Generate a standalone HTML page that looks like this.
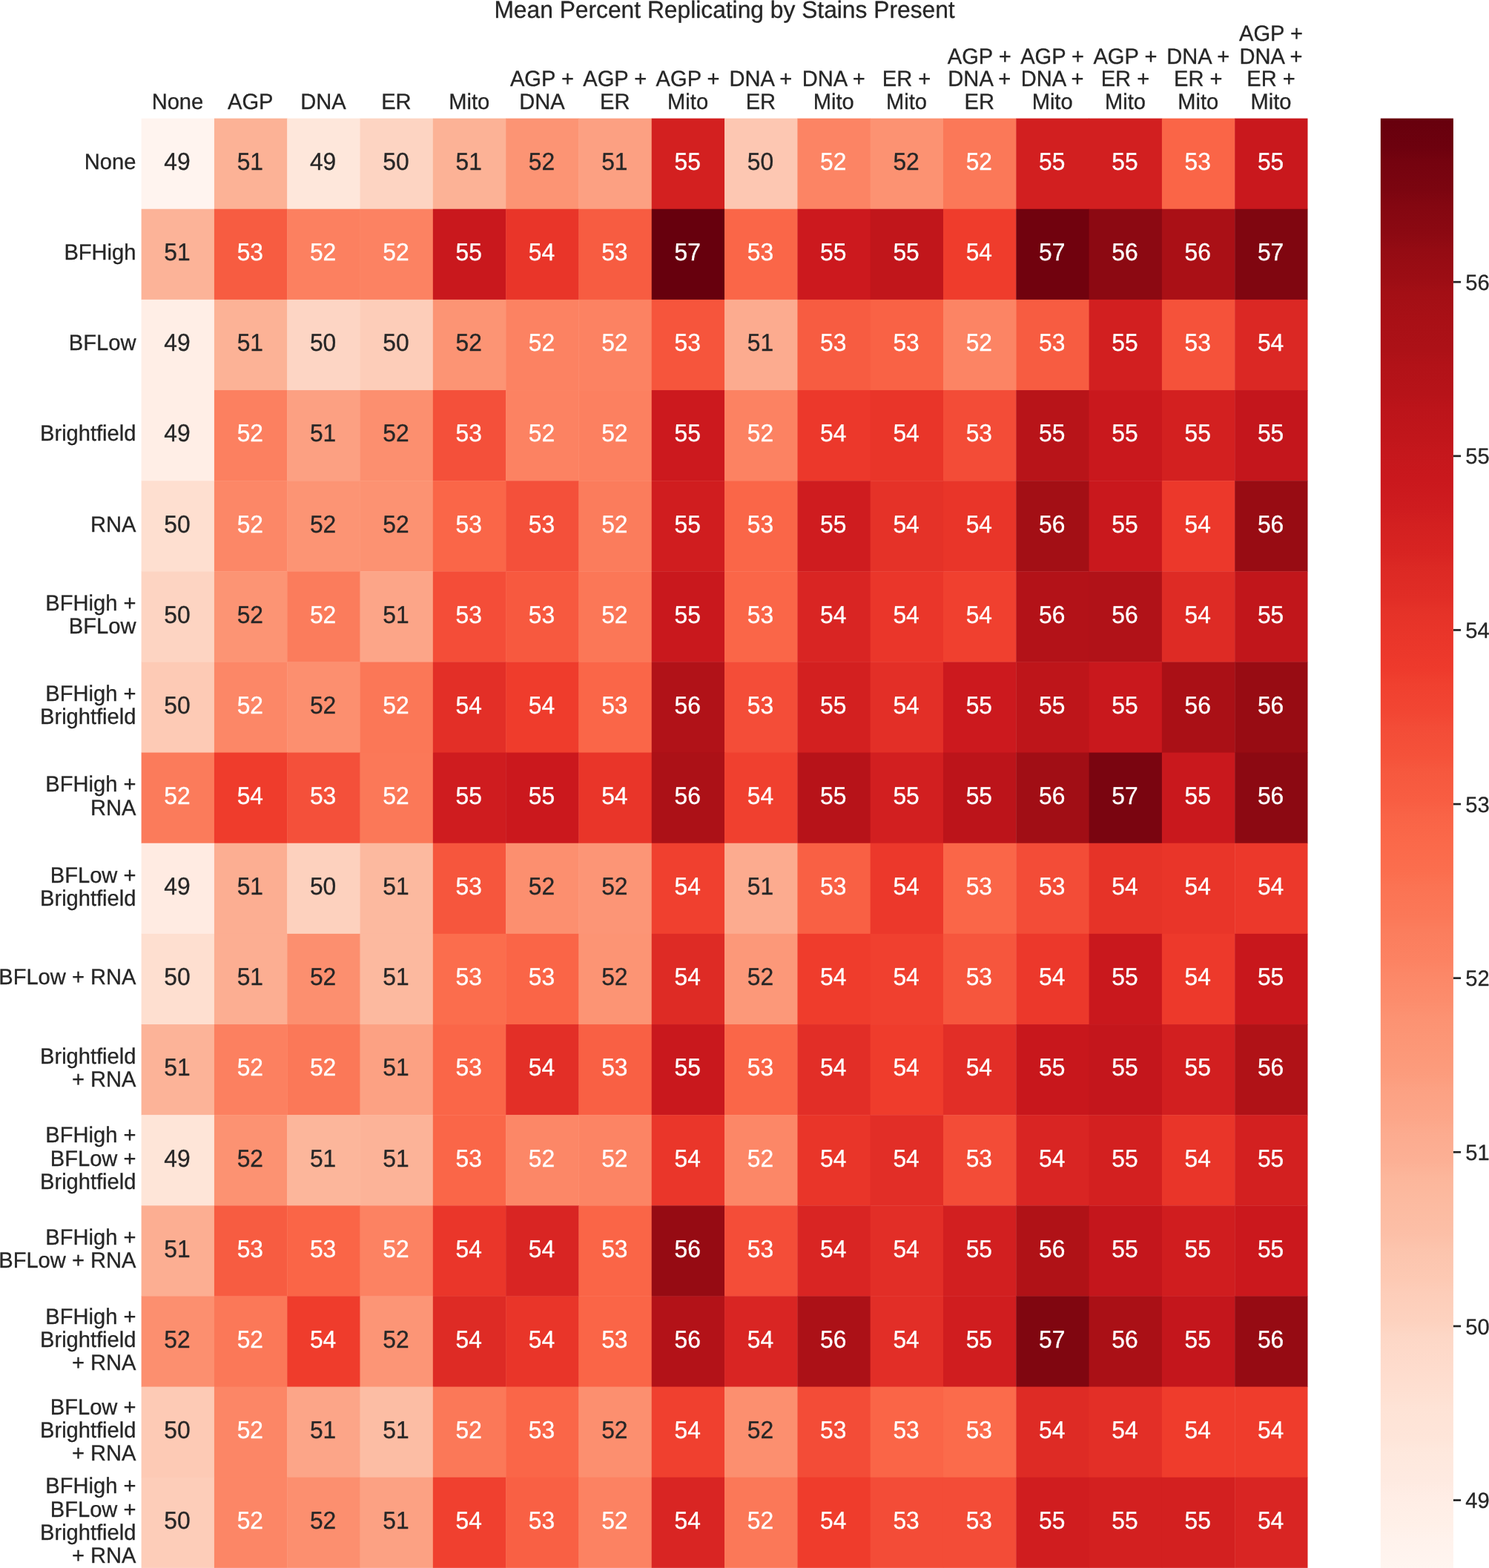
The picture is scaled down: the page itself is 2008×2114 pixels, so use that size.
<!DOCTYPE html>
<html lang="en"><head><meta charset="utf-8"><title>Mean Percent Replicating by Stains Present</title>
<style>
html,body{margin:0;padding:0;background:#fff}
body{width:2008px;height:2114px;position:relative;overflow:hidden;font-family:"Liberation Sans",sans-serif;color:#262626;-webkit-text-stroke:0.3px currentColor;text-rendering:geometricPrecision}
svg{position:absolute;left:0;top:0}
.t,.a,.xl,.yl,.cl{position:absolute;white-space:nowrap;transform-origin:0 0}
.t{font-size:31.75px;line-height:36px;text-align:center;transform:scale(1,1.02)}
.a{font-size:31.75px;line-height:40px;text-align:center;color:#fff;width:98.31px;transform:scale(1,1.04)}
.a.d{color:#262626}
.xl,.yl,.cl{font-size:29.1px;line-height:30.49px;transform:scale(1,1.02)}
.xl{text-align:center;width:200px}
.yl{text-align:right;width:300px;left:-116.6px}
.cl{left:1976.3px}
</style></head><body>
<svg width="2008" height="2114" viewBox="0 0 2008 2114"><defs><linearGradient id="g" x1="0" y1="0" x2="0" y2="1"><stop offset="0" stop-color="#67000d"/><stop offset="0.02" stop-color="#6d010e"/><stop offset="0.03" stop-color="#75030f"/><stop offset="0.05" stop-color="#7c0510"/><stop offset="0.06" stop-color="#840711"/><stop offset="0.08" stop-color="#8c0912"/><stop offset="0.09" stop-color="#940b13"/><stop offset="0.11" stop-color="#9c0d14"/><stop offset="0.12" stop-color="#a30f15"/><stop offset="0.14" stop-color="#a91016"/><stop offset="0.16" stop-color="#ad1117"/><stop offset="0.17" stop-color="#b21218"/><stop offset="0.19" stop-color="#b71319"/><stop offset="0.2" stop-color="#bc141a"/><stop offset="0.22" stop-color="#c1161b"/><stop offset="0.23" stop-color="#c5171c"/><stop offset="0.25" stop-color="#ca181d"/><stop offset="0.27" stop-color="#cf1c1f"/><stop offset="0.28" stop-color="#d32020"/><stop offset="0.3" stop-color="#d82422"/><stop offset="0.31" stop-color="#dc2924"/><stop offset="0.33" stop-color="#e12d26"/><stop offset="0.34" stop-color="#e53228"/><stop offset="0.36" stop-color="#ea362a"/><stop offset="0.38" stop-color="#ee3a2c"/><stop offset="0.39" stop-color="#f0402f"/><stop offset="0.41" stop-color="#f24633"/><stop offset="0.42" stop-color="#f34c37"/><stop offset="0.44" stop-color="#f5523a"/><stop offset="0.45" stop-color="#f6583e"/><stop offset="0.47" stop-color="#f85d42"/><stop offset="0.48" stop-color="#f96346"/><stop offset="0.5" stop-color="#fb694a"/><stop offset="0.52" stop-color="#fb6e4e"/><stop offset="0.53" stop-color="#fb7353"/><stop offset="0.55" stop-color="#fb7858"/><stop offset="0.56" stop-color="#fb7d5d"/><stop offset="0.58" stop-color="#fc8262"/><stop offset="0.59" stop-color="#fc8767"/><stop offset="0.61" stop-color="#fc8d6d"/><stop offset="0.62" stop-color="#fc9272"/><stop offset="0.64" stop-color="#fc9777"/><stop offset="0.66" stop-color="#fc9c7d"/><stop offset="0.67" stop-color="#fca183"/><stop offset="0.69" stop-color="#fca689"/><stop offset="0.7" stop-color="#fcab8f"/><stop offset="0.72" stop-color="#fcb095"/><stop offset="0.73" stop-color="#fcb69b"/><stop offset="0.75" stop-color="#fcbba1"/><stop offset="0.77" stop-color="#fcbfa7"/><stop offset="0.78" stop-color="#fcc4ad"/><stop offset="0.8" stop-color="#fdc9b3"/><stop offset="0.81" stop-color="#fdcdb9"/><stop offset="0.83" stop-color="#fdd2bf"/><stop offset="0.84" stop-color="#fdd7c6"/><stop offset="0.86" stop-color="#fedbcc"/><stop offset="0.88" stop-color="#fee0d2"/><stop offset="0.89" stop-color="#fee3d6"/><stop offset="0.91" stop-color="#fee5d9"/><stop offset="0.92" stop-color="#fee8dd"/><stop offset="0.94" stop-color="#feeae1"/><stop offset="0.95" stop-color="#ffede5"/><stop offset="0.97" stop-color="#fff0e8"/><stop offset="0.98" stop-color="#fff2ec"/><stop offset="1" stop-color="#fff5f0"/></linearGradient></defs>
<g><rect x="190.6" y="159.6" width="98.71" height="122.54" fill="#fff4ef"/><rect x="288.91" y="159.6" width="98.71" height="122.54" fill="#fcb296"/><rect x="387.21" y="159.6" width="98.71" height="122.54" fill="#fee7db"/><rect x="485.52" y="159.6" width="98.71" height="122.54" fill="#fdd4c2"/><rect x="583.83" y="159.6" width="98.71" height="122.54" fill="#fcb296"/><rect x="682.13" y="159.6" width="98.71" height="122.54" fill="#fc9474"/><rect x="780.44" y="159.6" width="98.71" height="122.54" fill="#fca082"/><rect x="878.74" y="159.6" width="98.71" height="122.54" fill="#d32020"/><rect x="977.05" y="159.6" width="98.71" height="122.54" fill="#fdc7b2"/><rect x="1075.36" y="159.6" width="98.71" height="122.54" fill="#fc8464"/><rect x="1173.66" y="159.6" width="98.71" height="122.54" fill="#fc9272"/><rect x="1271.97" y="159.6" width="98.71" height="122.54" fill="#fb7858"/><rect x="1370.28" y="159.6" width="98.71" height="122.54" fill="#d21f20"/><rect x="1468.58" y="159.6" width="98.71" height="122.54" fill="#d21f20"/><rect x="1566.89" y="159.6" width="98.71" height="122.54" fill="#fa6547"/><rect x="1665.19" y="159.6" width="98.31" height="122.54" fill="#c9181d"/></g>
<g><rect x="190.6" y="281.74" width="98.71" height="122.54" fill="#fcb398"/><rect x="288.91" y="281.74" width="98.71" height="122.54" fill="#f75c41"/><rect x="387.21" y="281.74" width="98.71" height="122.54" fill="#fc8060"/><rect x="485.52" y="281.74" width="98.71" height="122.54" fill="#fc8262"/><rect x="583.83" y="281.74" width="98.71" height="122.54" fill="#c9181d"/><rect x="682.13" y="281.74" width="98.71" height="122.54" fill="#e93529"/><rect x="780.44" y="281.74" width="98.71" height="122.54" fill="#f75c41"/><rect x="878.74" y="281.74" width="98.71" height="122.54" fill="#67000d"/><rect x="977.05" y="281.74" width="98.71" height="122.54" fill="#fa6648"/><rect x="1075.36" y="281.74" width="98.71" height="122.54" fill="#cc191e"/><rect x="1173.66" y="281.74" width="98.71" height="122.54" fill="#c1161b"/><rect x="1271.97" y="281.74" width="98.71" height="122.54" fill="#ef3c2c"/><rect x="1370.28" y="281.74" width="98.71" height="122.54" fill="#71020e"/><rect x="1468.58" y="281.74" width="98.71" height="122.54" fill="#8c0912"/><rect x="1566.89" y="281.74" width="98.71" height="122.54" fill="#aa1016"/><rect x="1665.19" y="281.74" width="98.31" height="122.54" fill="#800610"/></g>
<g><rect x="190.6" y="403.89" width="98.71" height="122.54" fill="#ffeee6"/><rect x="288.91" y="403.89" width="98.71" height="122.54" fill="#fcb296"/><rect x="387.21" y="403.89" width="98.71" height="122.54" fill="#fdd5c4"/><rect x="485.52" y="403.89" width="98.71" height="122.54" fill="#fdcdb9"/><rect x="583.83" y="403.89" width="98.71" height="122.54" fill="#fc9474"/><rect x="682.13" y="403.89" width="98.71" height="122.54" fill="#fc8262"/><rect x="780.44" y="403.89" width="98.71" height="122.54" fill="#fc8262"/><rect x="878.74" y="403.89" width="98.71" height="122.54" fill="#f6553c"/><rect x="977.05" y="403.89" width="98.71" height="122.54" fill="#fcab8f"/><rect x="1075.36" y="403.89" width="98.71" height="122.54" fill="#f75c41"/><rect x="1173.66" y="403.89" width="98.71" height="122.54" fill="#f96245"/><rect x="1271.97" y="403.89" width="98.71" height="122.54" fill="#fc8464"/><rect x="1370.28" y="403.89" width="98.71" height="122.54" fill="#f75c41"/><rect x="1468.58" y="403.89" width="98.71" height="122.54" fill="#d21f20"/><rect x="1566.89" y="403.89" width="98.71" height="122.54" fill="#f5523a"/><rect x="1665.19" y="403.89" width="98.31" height="122.54" fill="#db2824"/></g>
<g><rect x="190.6" y="526.03" width="98.71" height="122.54" fill="#ffeee6"/><rect x="288.91" y="526.03" width="98.71" height="122.54" fill="#fc8060"/><rect x="387.21" y="526.03" width="98.71" height="122.54" fill="#fca082"/><rect x="485.52" y="526.03" width="98.71" height="122.54" fill="#fc8f6f"/><rect x="583.83" y="526.03" width="98.71" height="122.54" fill="#f4503a"/><rect x="682.13" y="526.03" width="98.71" height="122.54" fill="#fc8262"/><rect x="780.44" y="526.03" width="98.71" height="122.54" fill="#fc8060"/><rect x="878.74" y="526.03" width="98.71" height="122.54" fill="#cc191e"/><rect x="977.05" y="526.03" width="98.71" height="122.54" fill="#fc8262"/><rect x="1075.36" y="526.03" width="98.71" height="122.54" fill="#ec382b"/><rect x="1173.66" y="526.03" width="98.71" height="122.54" fill="#e93529"/><rect x="1271.97" y="526.03" width="98.71" height="122.54" fill="#f34c37"/><rect x="1370.28" y="526.03" width="98.71" height="122.54" fill="#b81419"/><rect x="1468.58" y="526.03" width="98.71" height="122.54" fill="#c9181d"/><rect x="1566.89" y="526.03" width="98.71" height="122.54" fill="#d32020"/><rect x="1665.19" y="526.03" width="98.31" height="122.54" fill="#c4161c"/></g>
<g><rect x="190.6" y="648.18" width="98.71" height="122.54" fill="#fedfd0"/><rect x="288.91" y="648.18" width="98.71" height="122.54" fill="#fc8767"/><rect x="387.21" y="648.18" width="98.71" height="122.54" fill="#fc9474"/><rect x="485.52" y="648.18" width="98.71" height="122.54" fill="#fc9272"/><rect x="583.83" y="648.18" width="98.71" height="122.54" fill="#fa6648"/><rect x="682.13" y="648.18" width="98.71" height="122.54" fill="#f4503a"/><rect x="780.44" y="648.18" width="98.71" height="122.54" fill="#fb7c5c"/><rect x="878.74" y="648.18" width="98.71" height="122.54" fill="#d01d1f"/><rect x="977.05" y="648.18" width="98.71" height="122.54" fill="#fa6648"/><rect x="1075.36" y="648.18" width="98.71" height="122.54" fill="#cf1c1f"/><rect x="1173.66" y="648.18" width="98.71" height="122.54" fill="#e53228"/><rect x="1271.97" y="648.18" width="98.71" height="122.54" fill="#e93529"/><rect x="1370.28" y="648.18" width="98.71" height="122.54" fill="#a30f15"/><rect x="1468.58" y="648.18" width="98.71" height="122.54" fill="#c9181d"/><rect x="1566.89" y="648.18" width="98.71" height="122.54" fill="#ec382b"/><rect x="1665.19" y="648.18" width="98.31" height="122.54" fill="#980c13"/></g>
<g><rect x="190.6" y="770.32" width="98.71" height="122.54" fill="#fdd4c2"/><rect x="288.91" y="770.32" width="98.71" height="122.54" fill="#fc9474"/><rect x="387.21" y="770.32" width="98.71" height="122.54" fill="#fb7c5c"/><rect x="485.52" y="770.32" width="98.71" height="122.54" fill="#fca588"/><rect x="583.83" y="770.32" width="98.71" height="122.54" fill="#f44d38"/><rect x="682.13" y="770.32" width="98.71" height="122.54" fill="#f7593f"/><rect x="780.44" y="770.32" width="98.71" height="122.54" fill="#fb7757"/><rect x="878.74" y="770.32" width="98.71" height="122.54" fill="#c9181d"/><rect x="977.05" y="770.32" width="98.71" height="122.54" fill="#fa6648"/><rect x="1075.36" y="770.32" width="98.71" height="122.54" fill="#d92523"/><rect x="1173.66" y="770.32" width="98.71" height="122.54" fill="#ea362a"/><rect x="1271.97" y="770.32" width="98.71" height="122.54" fill="#f0402f"/><rect x="1370.28" y="770.32" width="98.71" height="122.54" fill="#b31218"/><rect x="1468.58" y="770.32" width="98.71" height="122.54" fill="#b11218"/><rect x="1566.89" y="770.32" width="98.71" height="122.54" fill="#de2b25"/><rect x="1665.19" y="770.32" width="98.31" height="122.54" fill="#c1161b"/></g>
<g><rect x="190.6" y="892.46" width="98.71" height="122.54" fill="#fdcab5"/><rect x="288.91" y="892.46" width="98.71" height="122.54" fill="#fc8767"/><rect x="387.21" y="892.46" width="98.71" height="122.54" fill="#fc8f6f"/><rect x="485.52" y="892.46" width="98.71" height="122.54" fill="#fb7757"/><rect x="583.83" y="892.46" width="98.71" height="122.54" fill="#e32f27"/><rect x="682.13" y="892.46" width="98.71" height="122.54" fill="#ef3c2c"/><rect x="780.44" y="892.46" width="98.71" height="122.54" fill="#fa6648"/><rect x="878.74" y="892.46" width="98.71" height="122.54" fill="#b11218"/><rect x="977.05" y="892.46" width="98.71" height="122.54" fill="#f44d38"/><rect x="1075.36" y="892.46" width="98.71" height="122.54" fill="#d32020"/><rect x="1173.66" y="892.46" width="98.71" height="122.54" fill="#e32f27"/><rect x="1271.97" y="892.46" width="98.71" height="122.54" fill="#cc191e"/><rect x="1370.28" y="892.46" width="98.71" height="122.54" fill="#be151a"/><rect x="1468.58" y="892.46" width="98.71" height="122.54" fill="#c9181d"/><rect x="1566.89" y="892.46" width="98.71" height="122.54" fill="#aa1016"/><rect x="1665.19" y="892.46" width="98.31" height="122.54" fill="#980c13"/></g>
<g><rect x="190.6" y="1014.61" width="98.71" height="122.54" fill="#fb7b5b"/><rect x="288.91" y="1014.61" width="98.71" height="122.54" fill="#ef3c2c"/><rect x="387.21" y="1014.61" width="98.71" height="122.54" fill="#f4503a"/><rect x="485.52" y="1014.61" width="98.71" height="122.54" fill="#fb7858"/><rect x="583.83" y="1014.61" width="98.71" height="122.54" fill="#cf1c1f"/><rect x="682.13" y="1014.61" width="98.71" height="122.54" fill="#cb181d"/><rect x="780.44" y="1014.61" width="98.71" height="122.54" fill="#e93529"/><rect x="878.74" y="1014.61" width="98.71" height="122.54" fill="#ac1117"/><rect x="977.05" y="1014.61" width="98.71" height="122.54" fill="#f0402f"/><rect x="1075.36" y="1014.61" width="98.71" height="122.54" fill="#b71319"/><rect x="1173.66" y="1014.61" width="98.71" height="122.54" fill="#d21f20"/><rect x="1271.97" y="1014.61" width="98.71" height="122.54" fill="#bc141a"/><rect x="1370.28" y="1014.61" width="98.71" height="122.54" fill="#a10e15"/><rect x="1468.58" y="1014.61" width="98.71" height="122.54" fill="#7a0510"/><rect x="1566.89" y="1014.61" width="98.71" height="122.54" fill="#c9181d"/><rect x="1665.19" y="1014.61" width="98.31" height="122.54" fill="#8c0912"/></g>
<g><rect x="190.6" y="1136.75" width="98.71" height="122.54" fill="#ffebe2"/><rect x="288.91" y="1136.75" width="98.71" height="122.54" fill="#fcae92"/><rect x="387.21" y="1136.75" width="98.71" height="122.54" fill="#fdd1be"/><rect x="485.52" y="1136.75" width="98.71" height="122.54" fill="#fcb99f"/><rect x="583.83" y="1136.75" width="98.71" height="122.54" fill="#f6563d"/><rect x="682.13" y="1136.75" width="98.71" height="122.54" fill="#fc8f6f"/><rect x="780.44" y="1136.75" width="98.71" height="122.54" fill="#fc9576"/><rect x="878.74" y="1136.75" width="98.71" height="122.54" fill="#f0402f"/><rect x="977.05" y="1136.75" width="98.71" height="122.54" fill="#fcab8f"/><rect x="1075.36" y="1136.75" width="98.71" height="122.54" fill="#f96044"/><rect x="1173.66" y="1136.75" width="98.71" height="122.54" fill="#ec382b"/><rect x="1271.97" y="1136.75" width="98.71" height="122.54" fill="#fa6648"/><rect x="1370.28" y="1136.75" width="98.71" height="122.54" fill="#f34c37"/><rect x="1468.58" y="1136.75" width="98.71" height="122.54" fill="#e63328"/><rect x="1566.89" y="1136.75" width="98.71" height="122.54" fill="#e93529"/><rect x="1665.19" y="1136.75" width="98.31" height="122.54" fill="#ec382b"/></g>
<g><rect x="190.6" y="1258.89" width="98.71" height="122.54" fill="#fedfd0"/><rect x="288.91" y="1258.89" width="98.71" height="122.54" fill="#fcae92"/><rect x="387.21" y="1258.89" width="98.71" height="122.54" fill="#fc8f6f"/><rect x="485.52" y="1258.89" width="98.71" height="122.54" fill="#fcb99f"/><rect x="583.83" y="1258.89" width="98.71" height="122.54" fill="#fb6d4d"/><rect x="682.13" y="1258.89" width="98.71" height="122.54" fill="#fa6547"/><rect x="780.44" y="1258.89" width="98.71" height="122.54" fill="#fc9474"/><rect x="878.74" y="1258.89" width="98.71" height="122.54" fill="#de2b25"/><rect x="977.05" y="1258.89" width="98.71" height="122.54" fill="#fc9879"/><rect x="1075.36" y="1258.89" width="98.71" height="122.54" fill="#ef3c2c"/><rect x="1173.66" y="1258.89" width="98.71" height="122.54" fill="#f0402f"/><rect x="1271.97" y="1258.89" width="98.71" height="122.54" fill="#f6563d"/><rect x="1370.28" y="1258.89" width="98.71" height="122.54" fill="#ec382b"/><rect x="1468.58" y="1258.89" width="98.71" height="122.54" fill="#c9181d"/><rect x="1566.89" y="1258.89" width="98.71" height="122.54" fill="#ed392b"/><rect x="1665.19" y="1258.89" width="98.31" height="122.54" fill="#c8171c"/></g>
<g><rect x="190.6" y="1381.04" width="98.71" height="122.54" fill="#fcb398"/><rect x="288.91" y="1381.04" width="98.71" height="122.54" fill="#fc8060"/><rect x="387.21" y="1381.04" width="98.71" height="122.54" fill="#fb7858"/><rect x="485.52" y="1381.04" width="98.71" height="122.54" fill="#fca183"/><rect x="583.83" y="1381.04" width="98.71" height="122.54" fill="#fa6648"/><rect x="682.13" y="1381.04" width="98.71" height="122.54" fill="#e32f27"/><rect x="780.44" y="1381.04" width="98.71" height="122.54" fill="#f96044"/><rect x="878.74" y="1381.04" width="98.71" height="122.54" fill="#c9181d"/><rect x="977.05" y="1381.04" width="98.71" height="122.54" fill="#fa6648"/><rect x="1075.36" y="1381.04" width="98.71" height="122.54" fill="#e22e27"/><rect x="1173.66" y="1381.04" width="98.71" height="122.54" fill="#ef3c2c"/><rect x="1271.97" y="1381.04" width="98.71" height="122.54" fill="#e22e27"/><rect x="1370.28" y="1381.04" width="98.71" height="122.54" fill="#c8171c"/><rect x="1468.58" y="1381.04" width="98.71" height="122.54" fill="#c4161c"/><rect x="1566.89" y="1381.04" width="98.71" height="122.54" fill="#d21f20"/><rect x="1665.19" y="1381.04" width="98.31" height="122.54" fill="#b01217"/></g>
<g><rect x="190.6" y="1503.18" width="98.71" height="122.54" fill="#fee5d8"/><rect x="288.91" y="1503.18" width="98.71" height="122.54" fill="#fc9272"/><rect x="387.21" y="1503.18" width="98.71" height="122.54" fill="#fcb69b"/><rect x="485.52" y="1503.18" width="98.71" height="122.54" fill="#fcb398"/><rect x="583.83" y="1503.18" width="98.71" height="122.54" fill="#fa6648"/><rect x="682.13" y="1503.18" width="98.71" height="122.54" fill="#fc8767"/><rect x="780.44" y="1503.18" width="98.71" height="122.54" fill="#fc8464"/><rect x="878.74" y="1503.18" width="98.71" height="122.54" fill="#ea362a"/><rect x="977.05" y="1503.18" width="98.71" height="122.54" fill="#fc8767"/><rect x="1075.36" y="1503.18" width="98.71" height="122.54" fill="#e93529"/><rect x="1173.66" y="1503.18" width="98.71" height="122.54" fill="#e22e27"/><rect x="1271.97" y="1503.18" width="98.71" height="122.54" fill="#f34c37"/><rect x="1370.28" y="1503.18" width="98.71" height="122.54" fill="#d92523"/><rect x="1468.58" y="1503.18" width="98.71" height="122.54" fill="#d32020"/><rect x="1566.89" y="1503.18" width="98.71" height="122.54" fill="#e93529"/><rect x="1665.19" y="1503.18" width="98.31" height="122.54" fill="#d32020"/></g>
<g><rect x="190.6" y="1625.33" width="98.71" height="122.54" fill="#fcae92"/><rect x="288.91" y="1625.33" width="98.71" height="122.54" fill="#f75c41"/><rect x="387.21" y="1625.33" width="98.71" height="122.54" fill="#fa6547"/><rect x="485.52" y="1625.33" width="98.71" height="122.54" fill="#fc8262"/><rect x="583.83" y="1625.33" width="98.71" height="122.54" fill="#ea362a"/><rect x="682.13" y="1625.33" width="98.71" height="122.54" fill="#d92523"/><rect x="780.44" y="1625.33" width="98.71" height="122.54" fill="#fa6547"/><rect x="878.74" y="1625.33" width="98.71" height="122.54" fill="#960b13"/><rect x="977.05" y="1625.33" width="98.71" height="122.54" fill="#f44d38"/><rect x="1075.36" y="1625.33" width="98.71" height="122.54" fill="#d92523"/><rect x="1173.66" y="1625.33" width="98.71" height="122.54" fill="#e22e27"/><rect x="1271.97" y="1625.33" width="98.71" height="122.54" fill="#d21f20"/><rect x="1370.28" y="1625.33" width="98.71" height="122.54" fill="#b01217"/><rect x="1468.58" y="1625.33" width="98.71" height="122.54" fill="#c4161c"/><rect x="1566.89" y="1625.33" width="98.71" height="122.54" fill="#d01d1f"/><rect x="1665.19" y="1625.33" width="98.31" height="122.54" fill="#cb181d"/></g>
<g><rect x="190.6" y="1747.47" width="98.71" height="122.54" fill="#fc8f6f"/><rect x="288.91" y="1747.47" width="98.71" height="122.54" fill="#fb7858"/><rect x="387.21" y="1747.47" width="98.71" height="122.54" fill="#ef3c2c"/><rect x="485.52" y="1747.47" width="98.71" height="122.54" fill="#fc9576"/><rect x="583.83" y="1747.47" width="98.71" height="122.54" fill="#de2b25"/><rect x="682.13" y="1747.47" width="98.71" height="122.54" fill="#e93529"/><rect x="780.44" y="1747.47" width="98.71" height="122.54" fill="#fa6547"/><rect x="878.74" y="1747.47" width="98.71" height="122.54" fill="#b31218"/><rect x="977.05" y="1747.47" width="98.71" height="122.54" fill="#d92523"/><rect x="1075.36" y="1747.47" width="98.71" height="122.54" fill="#ac1117"/><rect x="1173.66" y="1747.47" width="98.71" height="122.54" fill="#e22e27"/><rect x="1271.97" y="1747.47" width="98.71" height="122.54" fill="#d01d1f"/><rect x="1370.28" y="1747.47" width="98.71" height="122.54" fill="#800610"/><rect x="1468.58" y="1747.47" width="98.71" height="122.54" fill="#aa1016"/><rect x="1566.89" y="1747.47" width="98.71" height="122.54" fill="#c4161c"/><rect x="1665.19" y="1747.47" width="98.31" height="122.54" fill="#960b13"/></g>
<g><rect x="190.6" y="1869.61" width="98.71" height="122.54" fill="#fdcab5"/><rect x="288.91" y="1869.61" width="98.71" height="122.54" fill="#fc8666"/><rect x="387.21" y="1869.61" width="98.71" height="122.54" fill="#fca588"/><rect x="485.52" y="1869.61" width="98.71" height="122.54" fill="#fcbda4"/><rect x="583.83" y="1869.61" width="98.71" height="122.54" fill="#fb7858"/><rect x="682.13" y="1869.61" width="98.71" height="122.54" fill="#fa6648"/><rect x="780.44" y="1869.61" width="98.71" height="122.54" fill="#fc8f6f"/><rect x="878.74" y="1869.61" width="98.71" height="122.54" fill="#f0402f"/><rect x="977.05" y="1869.61" width="98.71" height="122.54" fill="#fc8f6f"/><rect x="1075.36" y="1869.61" width="98.71" height="122.54" fill="#f34c37"/><rect x="1173.66" y="1869.61" width="98.71" height="122.54" fill="#fa6547"/><rect x="1271.97" y="1869.61" width="98.71" height="122.54" fill="#fb6b4b"/><rect x="1370.28" y="1869.61" width="98.71" height="122.54" fill="#de2b25"/><rect x="1468.58" y="1869.61" width="98.71" height="122.54" fill="#e32f27"/><rect x="1566.89" y="1869.61" width="98.71" height="122.54" fill="#ef3c2c"/><rect x="1665.19" y="1869.61" width="98.31" height="122.54" fill="#ef3c2c"/></g>
<g><rect x="190.6" y="1991.76" width="98.71" height="122.14" fill="#fdcdb9"/><rect x="288.91" y="1991.76" width="98.71" height="122.14" fill="#fc8666"/><rect x="387.21" y="1991.76" width="98.71" height="122.14" fill="#fc8f6f"/><rect x="485.52" y="1991.76" width="98.71" height="122.14" fill="#fca183"/><rect x="583.83" y="1991.76" width="98.71" height="122.14" fill="#f0402f"/><rect x="682.13" y="1991.76" width="98.71" height="122.14" fill="#f96044"/><rect x="780.44" y="1991.76" width="98.71" height="122.14" fill="#fc8262"/><rect x="878.74" y="1991.76" width="98.71" height="122.14" fill="#d92523"/><rect x="977.05" y="1991.76" width="98.71" height="122.14" fill="#fb7858"/><rect x="1075.36" y="1991.76" width="98.71" height="122.14" fill="#ef3c2c"/><rect x="1173.66" y="1991.76" width="98.71" height="122.14" fill="#f34c37"/><rect x="1271.97" y="1991.76" width="98.71" height="122.14" fill="#f34c37"/><rect x="1370.28" y="1991.76" width="98.71" height="122.14" fill="#d01d1f"/><rect x="1468.58" y="1991.76" width="98.71" height="122.14" fill="#d32020"/><rect x="1566.89" y="1991.76" width="98.71" height="122.14" fill="#d32020"/><rect x="1665.19" y="1991.76" width="98.31" height="122.14" fill="#d92523"/></g>
<rect x="1861.8" y="159.6" width="98.1" height="1954.3" fill="url(#g)"/>
<rect x="1959.9" y="2021.25" width="10.2" height="2.7" fill="#262626"/><rect x="1959.9" y="1786.62" width="10.2" height="2.7" fill="#262626"/><rect x="1959.9" y="1551.99" width="10.2" height="2.7" fill="#262626"/><rect x="1959.9" y="1317.36" width="10.2" height="2.7" fill="#262626"/><rect x="1959.9" y="1082.74" width="10.2" height="2.7" fill="#262626"/><rect x="1959.9" y="848.11" width="10.2" height="2.7" fill="#262626"/><rect x="1959.9" y="613.48" width="10.2" height="2.7" fill="#262626"/><rect x="1959.9" y="378.85" width="10.2" height="2.7" fill="#262626"/>
</svg>
<div class="t" style="left:190.6px;width:1572.9px;top:-6.03px">Mean Percent Replicating by Stains Present</div>
<div class="xl" style="left:139.45px;top:123.02px">None</div>
<div class="xl" style="left:237.76px;top:123.02px">AGP</div>
<div class="xl" style="left:336.07px;top:123.02px">DNA</div>
<div class="xl" style="left:434.37px;top:123.02px">ER</div>
<div class="xl" style="left:532.68px;top:123.02px">Mito</div>
<div class="xl" style="left:630.98px;top:92.02px">AGP +</div><div class="xl" style="left:630.98px;top:123.02px">DNA</div>
<div class="xl" style="left:729.29px;top:92.02px">AGP +</div><div class="xl" style="left:729.29px;top:123.02px">ER</div>
<div class="xl" style="left:827.6px;top:92.02px">AGP +</div><div class="xl" style="left:827.6px;top:123.02px">Mito</div>
<div class="xl" style="left:925.9px;top:92.02px">DNA +</div><div class="xl" style="left:925.9px;top:123.02px">ER</div>
<div class="xl" style="left:1024.21px;top:92.02px">DNA +</div><div class="xl" style="left:1024.21px;top:123.02px">Mito</div>
<div class="xl" style="left:1122.52px;top:92.02px">ER +</div><div class="xl" style="left:1122.52px;top:123.02px">Mito</div>
<div class="xl" style="left:1220.82px;top:62.02px">AGP +</div><div class="xl" style="left:1220.82px;top:92.02px">DNA +</div><div class="xl" style="left:1220.82px;top:123.02px">ER</div>
<div class="xl" style="left:1319.13px;top:62.02px">AGP +</div><div class="xl" style="left:1319.13px;top:92.02px">DNA +</div><div class="xl" style="left:1319.13px;top:123.02px">Mito</div>
<div class="xl" style="left:1417.43px;top:62.02px">AGP +</div><div class="xl" style="left:1417.43px;top:92.02px">ER +</div><div class="xl" style="left:1417.43px;top:123.02px">Mito</div>
<div class="xl" style="left:1515.74px;top:62.02px">DNA +</div><div class="xl" style="left:1515.74px;top:92.02px">ER +</div><div class="xl" style="left:1515.74px;top:123.02px">Mito</div>
<div class="xl" style="left:1614.05px;top:31.02px">AGP +</div><div class="xl" style="left:1614.05px;top:62.02px">DNA +</div><div class="xl" style="left:1614.05px;top:92.02px">ER +</div><div class="xl" style="left:1614.05px;top:123.02px">Mito</div>
<div class="yl" style="top:204.02px">None</div>
<div class="yl" style="top:326.02px">BFHigh</div>
<div class="yl" style="top:448.02px">BFLow</div>
<div class="yl" style="top:570.02px">Brightfield</div>
<div class="yl" style="top:693.02px">RNA</div>
<div class="yl" style="top:799.02px">BFHigh +</div><div class="yl" style="top:830.02px">BFLow</div>
<div class="yl" style="top:921.02px">BFHigh +</div><div class="yl" style="top:952.02px">Brightfield</div>
<div class="yl" style="top:1043.02px">BFHigh +</div><div class="yl" style="top:1075.02px">RNA</div>
<div class="yl" style="top:1166.02px">BFLow +</div><div class="yl" style="top:1197.02px">Brightfield</div>
<div class="yl" style="top:1303.02px">BFLow + RNA</div>
<div class="yl" style="top:1410.02px">Brightfield</div><div class="yl" style="top:1441.02px">+ RNA</div>
<div class="yl" style="top:1516.02px">BFHigh +</div><div class="yl" style="top:1548.02px">BFLow +</div><div class="yl" style="top:1579.02px">Brightfield</div>
<div class="yl" style="top:1654.02px">BFHigh +</div><div class="yl" style="top:1685.02px">BFLow + RNA</div>
<div class="yl" style="top:1761.02px">BFHigh +</div><div class="yl" style="top:1792.02px">Brightfield</div><div class="yl" style="top:1823.02px">+ RNA</div>
<div class="yl" style="top:1883.02px">BFLow +</div><div class="yl" style="top:1914.02px">Brightfield</div><div class="yl" style="top:1945.02px">+ RNA</div>
<div class="yl" style="top:1989.02px">BFHigh +</div><div class="yl" style="top:2021.02px">BFLow +</div><div class="yl" style="top:2052.02px">Brightfield</div><div class="yl" style="top:2083.02px">+ RNA</div>
<div class="a d" style="left:189.85px;top:197.01px">49</div><div class="a d" style="left:288.16px;top:197.01px">51</div><div class="a d" style="left:386.46px;top:197.01px">49</div><div class="a d" style="left:484.77px;top:197.01px">50</div><div class="a d" style="left:583.08px;top:197.01px">51</div><div class="a d" style="left:681.38px;top:197.01px">52</div><div class="a d" style="left:779.69px;top:197.01px">51</div><div class="a" style="left:877.99px;top:197.01px">55</div><div class="a d" style="left:976.3px;top:197.01px">50</div><div class="a" style="left:1074.61px;top:197.01px">52</div><div class="a d" style="left:1172.91px;top:197.01px">52</div><div class="a" style="left:1271.22px;top:197.01px">52</div><div class="a" style="left:1369.53px;top:197.01px">55</div><div class="a" style="left:1467.83px;top:197.01px">55</div><div class="a" style="left:1566.14px;top:197.01px">53</div><div class="a" style="left:1664.44px;top:197.01px">55</div>
<div class="a d" style="left:189.85px;top:319.01px">51</div><div class="a" style="left:288.16px;top:319.01px">53</div><div class="a" style="left:386.46px;top:319.01px">52</div><div class="a" style="left:484.77px;top:319.01px">52</div><div class="a" style="left:583.08px;top:319.01px">55</div><div class="a" style="left:681.38px;top:319.01px">54</div><div class="a" style="left:779.69px;top:319.01px">53</div><div class="a" style="left:877.99px;top:319.01px">57</div><div class="a" style="left:976.3px;top:319.01px">53</div><div class="a" style="left:1074.61px;top:319.01px">55</div><div class="a" style="left:1172.91px;top:319.01px">55</div><div class="a" style="left:1271.22px;top:319.01px">54</div><div class="a" style="left:1369.53px;top:319.01px">57</div><div class="a" style="left:1467.83px;top:319.01px">56</div><div class="a" style="left:1566.14px;top:319.01px">56</div><div class="a" style="left:1664.44px;top:319.01px">57</div>
<div class="a d" style="left:189.85px;top:441.01px">49</div><div class="a d" style="left:288.16px;top:441.01px">51</div><div class="a d" style="left:386.46px;top:441.01px">50</div><div class="a d" style="left:484.77px;top:441.01px">50</div><div class="a d" style="left:583.08px;top:441.01px">52</div><div class="a" style="left:681.38px;top:441.01px">52</div><div class="a" style="left:779.69px;top:441.01px">52</div><div class="a" style="left:877.99px;top:441.01px">53</div><div class="a d" style="left:976.3px;top:441.01px">51</div><div class="a" style="left:1074.61px;top:441.01px">53</div><div class="a" style="left:1172.91px;top:441.01px">53</div><div class="a" style="left:1271.22px;top:441.01px">52</div><div class="a" style="left:1369.53px;top:441.01px">53</div><div class="a" style="left:1467.83px;top:441.01px">55</div><div class="a" style="left:1566.14px;top:441.01px">53</div><div class="a" style="left:1664.44px;top:441.01px">54</div>
<div class="a d" style="left:189.85px;top:563.01px">49</div><div class="a" style="left:288.16px;top:563.01px">52</div><div class="a d" style="left:386.46px;top:563.01px">51</div><div class="a d" style="left:484.77px;top:563.01px">52</div><div class="a" style="left:583.08px;top:563.01px">53</div><div class="a" style="left:681.38px;top:563.01px">52</div><div class="a" style="left:779.69px;top:563.01px">52</div><div class="a" style="left:877.99px;top:563.01px">55</div><div class="a" style="left:976.3px;top:563.01px">52</div><div class="a" style="left:1074.61px;top:563.01px">54</div><div class="a" style="left:1172.91px;top:563.01px">54</div><div class="a" style="left:1271.22px;top:563.01px">53</div><div class="a" style="left:1369.53px;top:563.01px">55</div><div class="a" style="left:1467.83px;top:563.01px">55</div><div class="a" style="left:1566.14px;top:563.01px">55</div><div class="a" style="left:1664.44px;top:563.01px">55</div>
<div class="a d" style="left:189.85px;top:686.01px">50</div><div class="a" style="left:288.16px;top:686.01px">52</div><div class="a d" style="left:386.46px;top:686.01px">52</div><div class="a d" style="left:484.77px;top:686.01px">52</div><div class="a" style="left:583.08px;top:686.01px">53</div><div class="a" style="left:681.38px;top:686.01px">53</div><div class="a" style="left:779.69px;top:686.01px">52</div><div class="a" style="left:877.99px;top:686.01px">55</div><div class="a" style="left:976.3px;top:686.01px">53</div><div class="a" style="left:1074.61px;top:686.01px">55</div><div class="a" style="left:1172.91px;top:686.01px">54</div><div class="a" style="left:1271.22px;top:686.01px">54</div><div class="a" style="left:1369.53px;top:686.01px">56</div><div class="a" style="left:1467.83px;top:686.01px">55</div><div class="a" style="left:1566.14px;top:686.01px">54</div><div class="a" style="left:1664.44px;top:686.01px">56</div>
<div class="a d" style="left:189.85px;top:808.01px">50</div><div class="a d" style="left:288.16px;top:808.01px">52</div><div class="a" style="left:386.46px;top:808.01px">52</div><div class="a d" style="left:484.77px;top:808.01px">51</div><div class="a" style="left:583.08px;top:808.01px">53</div><div class="a" style="left:681.38px;top:808.01px">53</div><div class="a" style="left:779.69px;top:808.01px">52</div><div class="a" style="left:877.99px;top:808.01px">55</div><div class="a" style="left:976.3px;top:808.01px">53</div><div class="a" style="left:1074.61px;top:808.01px">54</div><div class="a" style="left:1172.91px;top:808.01px">54</div><div class="a" style="left:1271.22px;top:808.01px">54</div><div class="a" style="left:1369.53px;top:808.01px">56</div><div class="a" style="left:1467.83px;top:808.01px">56</div><div class="a" style="left:1566.14px;top:808.01px">54</div><div class="a" style="left:1664.44px;top:808.01px">55</div>
<div class="a d" style="left:189.85px;top:930.01px">50</div><div class="a" style="left:288.16px;top:930.01px">52</div><div class="a d" style="left:386.46px;top:930.01px">52</div><div class="a" style="left:484.77px;top:930.01px">52</div><div class="a" style="left:583.08px;top:930.01px">54</div><div class="a" style="left:681.38px;top:930.01px">54</div><div class="a" style="left:779.69px;top:930.01px">53</div><div class="a" style="left:877.99px;top:930.01px">56</div><div class="a" style="left:976.3px;top:930.01px">53</div><div class="a" style="left:1074.61px;top:930.01px">55</div><div class="a" style="left:1172.91px;top:930.01px">54</div><div class="a" style="left:1271.22px;top:930.01px">55</div><div class="a" style="left:1369.53px;top:930.01px">55</div><div class="a" style="left:1467.83px;top:930.01px">55</div><div class="a" style="left:1566.14px;top:930.01px">56</div><div class="a" style="left:1664.44px;top:930.01px">56</div>
<div class="a" style="left:189.85px;top:1052.01px">52</div><div class="a" style="left:288.16px;top:1052.01px">54</div><div class="a" style="left:386.46px;top:1052.01px">53</div><div class="a" style="left:484.77px;top:1052.01px">52</div><div class="a" style="left:583.08px;top:1052.01px">55</div><div class="a" style="left:681.38px;top:1052.01px">55</div><div class="a" style="left:779.69px;top:1052.01px">54</div><div class="a" style="left:877.99px;top:1052.01px">56</div><div class="a" style="left:976.3px;top:1052.01px">54</div><div class="a" style="left:1074.61px;top:1052.01px">55</div><div class="a" style="left:1172.91px;top:1052.01px">55</div><div class="a" style="left:1271.22px;top:1052.01px">55</div><div class="a" style="left:1369.53px;top:1052.01px">56</div><div class="a" style="left:1467.83px;top:1052.01px">57</div><div class="a" style="left:1566.14px;top:1052.01px">55</div><div class="a" style="left:1664.44px;top:1052.01px">56</div>
<div class="a d" style="left:189.85px;top:1174.01px">49</div><div class="a d" style="left:288.16px;top:1174.01px">51</div><div class="a d" style="left:386.46px;top:1174.01px">50</div><div class="a d" style="left:484.77px;top:1174.01px">51</div><div class="a" style="left:583.08px;top:1174.01px">53</div><div class="a d" style="left:681.38px;top:1174.01px">52</div><div class="a d" style="left:779.69px;top:1174.01px">52</div><div class="a" style="left:877.99px;top:1174.01px">54</div><div class="a d" style="left:976.3px;top:1174.01px">51</div><div class="a" style="left:1074.61px;top:1174.01px">53</div><div class="a" style="left:1172.91px;top:1174.01px">54</div><div class="a" style="left:1271.22px;top:1174.01px">53</div><div class="a" style="left:1369.53px;top:1174.01px">53</div><div class="a" style="left:1467.83px;top:1174.01px">54</div><div class="a" style="left:1566.14px;top:1174.01px">54</div><div class="a" style="left:1664.44px;top:1174.01px">54</div>
<div class="a d" style="left:189.85px;top:1296.01px">50</div><div class="a d" style="left:288.16px;top:1296.01px">51</div><div class="a d" style="left:386.46px;top:1296.01px">52</div><div class="a d" style="left:484.77px;top:1296.01px">51</div><div class="a" style="left:583.08px;top:1296.01px">53</div><div class="a" style="left:681.38px;top:1296.01px">53</div><div class="a d" style="left:779.69px;top:1296.01px">52</div><div class="a" style="left:877.99px;top:1296.01px">54</div><div class="a d" style="left:976.3px;top:1296.01px">52</div><div class="a" style="left:1074.61px;top:1296.01px">54</div><div class="a" style="left:1172.91px;top:1296.01px">54</div><div class="a" style="left:1271.22px;top:1296.01px">53</div><div class="a" style="left:1369.53px;top:1296.01px">54</div><div class="a" style="left:1467.83px;top:1296.01px">55</div><div class="a" style="left:1566.14px;top:1296.01px">54</div><div class="a" style="left:1664.44px;top:1296.01px">55</div>
<div class="a d" style="left:189.85px;top:1418.01px">51</div><div class="a" style="left:288.16px;top:1418.01px">52</div><div class="a" style="left:386.46px;top:1418.01px">52</div><div class="a d" style="left:484.77px;top:1418.01px">51</div><div class="a" style="left:583.08px;top:1418.01px">53</div><div class="a" style="left:681.38px;top:1418.01px">54</div><div class="a" style="left:779.69px;top:1418.01px">53</div><div class="a" style="left:877.99px;top:1418.01px">55</div><div class="a" style="left:976.3px;top:1418.01px">53</div><div class="a" style="left:1074.61px;top:1418.01px">54</div><div class="a" style="left:1172.91px;top:1418.01px">54</div><div class="a" style="left:1271.22px;top:1418.01px">54</div><div class="a" style="left:1369.53px;top:1418.01px">55</div><div class="a" style="left:1467.83px;top:1418.01px">55</div><div class="a" style="left:1566.14px;top:1418.01px">55</div><div class="a" style="left:1664.44px;top:1418.01px">56</div>
<div class="a d" style="left:189.85px;top:1541.01px">49</div><div class="a d" style="left:288.16px;top:1541.01px">52</div><div class="a d" style="left:386.46px;top:1541.01px">51</div><div class="a d" style="left:484.77px;top:1541.01px">51</div><div class="a" style="left:583.08px;top:1541.01px">53</div><div class="a" style="left:681.38px;top:1541.01px">52</div><div class="a" style="left:779.69px;top:1541.01px">52</div><div class="a" style="left:877.99px;top:1541.01px">54</div><div class="a" style="left:976.3px;top:1541.01px">52</div><div class="a" style="left:1074.61px;top:1541.01px">54</div><div class="a" style="left:1172.91px;top:1541.01px">54</div><div class="a" style="left:1271.22px;top:1541.01px">53</div><div class="a" style="left:1369.53px;top:1541.01px">54</div><div class="a" style="left:1467.83px;top:1541.01px">55</div><div class="a" style="left:1566.14px;top:1541.01px">54</div><div class="a" style="left:1664.44px;top:1541.01px">55</div>
<div class="a d" style="left:189.85px;top:1663.01px">51</div><div class="a" style="left:288.16px;top:1663.01px">53</div><div class="a" style="left:386.46px;top:1663.01px">53</div><div class="a" style="left:484.77px;top:1663.01px">52</div><div class="a" style="left:583.08px;top:1663.01px">54</div><div class="a" style="left:681.38px;top:1663.01px">54</div><div class="a" style="left:779.69px;top:1663.01px">53</div><div class="a" style="left:877.99px;top:1663.01px">56</div><div class="a" style="left:976.3px;top:1663.01px">53</div><div class="a" style="left:1074.61px;top:1663.01px">54</div><div class="a" style="left:1172.91px;top:1663.01px">54</div><div class="a" style="left:1271.22px;top:1663.01px">55</div><div class="a" style="left:1369.53px;top:1663.01px">56</div><div class="a" style="left:1467.83px;top:1663.01px">55</div><div class="a" style="left:1566.14px;top:1663.01px">55</div><div class="a" style="left:1664.44px;top:1663.01px">55</div>
<div class="a d" style="left:189.85px;top:1785.01px">52</div><div class="a" style="left:288.16px;top:1785.01px">52</div><div class="a" style="left:386.46px;top:1785.01px">54</div><div class="a d" style="left:484.77px;top:1785.01px">52</div><div class="a" style="left:583.08px;top:1785.01px">54</div><div class="a" style="left:681.38px;top:1785.01px">54</div><div class="a" style="left:779.69px;top:1785.01px">53</div><div class="a" style="left:877.99px;top:1785.01px">56</div><div class="a" style="left:976.3px;top:1785.01px">54</div><div class="a" style="left:1074.61px;top:1785.01px">56</div><div class="a" style="left:1172.91px;top:1785.01px">54</div><div class="a" style="left:1271.22px;top:1785.01px">55</div><div class="a" style="left:1369.53px;top:1785.01px">57</div><div class="a" style="left:1467.83px;top:1785.01px">56</div><div class="a" style="left:1566.14px;top:1785.01px">55</div><div class="a" style="left:1664.44px;top:1785.01px">56</div>
<div class="a d" style="left:189.85px;top:1907.01px">50</div><div class="a" style="left:288.16px;top:1907.01px">52</div><div class="a d" style="left:386.46px;top:1907.01px">51</div><div class="a d" style="left:484.77px;top:1907.01px">51</div><div class="a" style="left:583.08px;top:1907.01px">52</div><div class="a" style="left:681.38px;top:1907.01px">53</div><div class="a d" style="left:779.69px;top:1907.01px">52</div><div class="a" style="left:877.99px;top:1907.01px">54</div><div class="a d" style="left:976.3px;top:1907.01px">52</div><div class="a" style="left:1074.61px;top:1907.01px">53</div><div class="a" style="left:1172.91px;top:1907.01px">53</div><div class="a" style="left:1271.22px;top:1907.01px">53</div><div class="a" style="left:1369.53px;top:1907.01px">54</div><div class="a" style="left:1467.83px;top:1907.01px">54</div><div class="a" style="left:1566.14px;top:1907.01px">54</div><div class="a" style="left:1664.44px;top:1907.01px">54</div>
<div class="a d" style="left:189.85px;top:2029.01px">50</div><div class="a" style="left:288.16px;top:2029.01px">52</div><div class="a d" style="left:386.46px;top:2029.01px">52</div><div class="a d" style="left:484.77px;top:2029.01px">51</div><div class="a" style="left:583.08px;top:2029.01px">54</div><div class="a" style="left:681.38px;top:2029.01px">53</div><div class="a" style="left:779.69px;top:2029.01px">52</div><div class="a" style="left:877.99px;top:2029.01px">54</div><div class="a" style="left:976.3px;top:2029.01px">52</div><div class="a" style="left:1074.61px;top:2029.01px">54</div><div class="a" style="left:1172.91px;top:2029.01px">53</div><div class="a" style="left:1271.22px;top:2029.01px">53</div><div class="a" style="left:1369.53px;top:2029.01px">55</div><div class="a" style="left:1467.83px;top:2029.01px">55</div><div class="a" style="left:1566.14px;top:2029.01px">55</div><div class="a" style="left:1664.44px;top:2029.01px">54</div>
<div class="cl" style="top:2009.02px">49</div><div class="cl" style="top:1775.02px">50</div><div class="cl" style="top:1540.02px">51</div><div class="cl" style="top:1305.02px">52</div><div class="cl" style="top:1071.02px">53</div><div class="cl" style="top:836.02px">54</div><div class="cl" style="top:601.02px">55</div><div class="cl" style="top:367.02px">56</div>
</body></html>
